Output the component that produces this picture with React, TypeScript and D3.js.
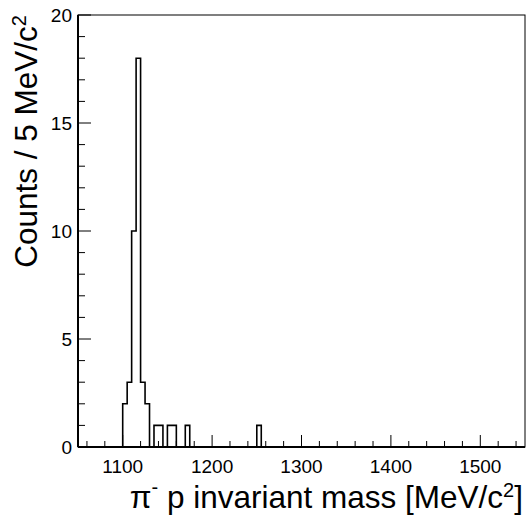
import React from "react";
import * as d3 from "d3";

// non-empty 5 MeV bins (lower edges) and their counts
const binLow = [1100, 1105, 1110, 1115, 1120, 1125, 1135, 1140, 1150, 1155, 1170, 1250];
const counts = [2, 3, 10, 18, 3, 2, 1, 1, 1, 1, 1, 1];
const xTicks = [1100, 1200, 1300, 1400, 1500];
const yTicks = [0, 5, 10, 15, 20];

const W = 527;
const H = 516;
const binWidth = 5;
const xMin = 1050;
const xMax = 1550;

const App = () => {
  const x = d3.scaleLinear().domain([xMin, xMax]).range([78, 525]);
  const y = d3.scaleLinear().domain([0, 20]).range([447, 15]);

  // full list of bins across the axis range
  const nBins = (xMax - xMin) / binWidth;
  const bins = d3.range(nBins).map((i) => {
    const lo = xMin + i * binWidth;
    const k = binLow.indexOf(lo);
    return { lo, hi: lo + binWidth, c: k >= 0 ? counts[k] : 0 };
  });

  const pts: [number, number][] = [[x(xMin), y(0)]];
  bins.forEach((b) => {
    pts.push([x(b.lo), y(b.c)]);
    pts.push([x(b.hi), y(b.c)]);
  });
  pts.push([x(xMax), y(0)]);
  const path = d3.line()(pts) || "";

  const xMinor = d3.range(1060, xMax + 1, 20).filter((v) => v % 100 !== 0);
  const yMinor = d3.range(0, 21, 1).filter((v) => v % 5 !== 0);

  const font = "Liberation Sans, Arial, Helvetica, sans-serif";

  return (
    <svg
      width={W}
      height={H}
      style={{ position: "absolute", left: 0, top: 0, background: "#fff" }}
      fontFamily={font}
    >
      {/* frame */}
      <rect x={78} y={15} width={447} height={432} fill="none" stroke="#000" strokeWidth={1} />

      {/* histogram */}
      <path d={path} fill="none" stroke="#000" strokeWidth={1.6} />

      {/* x axis */}
      <line x1={78} x2={525} y1={447} y2={447} stroke="#000" strokeWidth={2} />
      {xTicks.map((t) => (
        <g key={"xt" + t}>
          <line x1={x(t)} x2={x(t)} y1={447} y2={435} stroke="#000" strokeWidth={1} />
          <text x={x(t)} y={473} fontSize={19} textAnchor="middle">
            {t}
          </text>
        </g>
      ))}
      {xMinor.map((t) => (
        <line key={"xm" + t} x1={x(t)} x2={x(t)} y1={447} y2={441} stroke="#000" strokeWidth={1} />
      ))}

      {/* y axis */}
      <line x1={78} x2={78} y1={15} y2={447} stroke="#000" strokeWidth={2} />
      {yTicks.map((t) => (
        <g key={"yt" + t}>
          <line x1={78} x2={91} y1={y(t)} y2={y(t)} stroke="#000" strokeWidth={1} />
          <text x={72} y={y(t) + 7} fontSize={19} textAnchor="end">
            {t}
          </text>
        </g>
      ))}
      {yMinor.map((t) => (
        <line key={"ym" + t} x1={78} x2={85} y1={y(t)} y2={y(t)} stroke="#000" strokeWidth={1} />
      ))}

      {/* axis titles */}
      <text x={523} y={508} fontSize={31.5} textAnchor="end">
        <tspan>π</tspan>
        <tspan fontSize={20} dy={-14}>-</tspan>
        <tspan dy={14}> p invariant mass [MeV/c</tspan>
        <tspan fontSize={20} dy={-11}>2</tspan>
        <tspan dy={11}>]</tspan>
      </text>
      <text transform="translate(37,15) rotate(-90)" fontSize={31.5} textAnchor="end">
        <tspan>Counts / 5 MeV/c</tspan>
        <tspan fontSize={20} dy={-11}>2</tspan>
      </text>
    </svg>
  );
};

export default App;
